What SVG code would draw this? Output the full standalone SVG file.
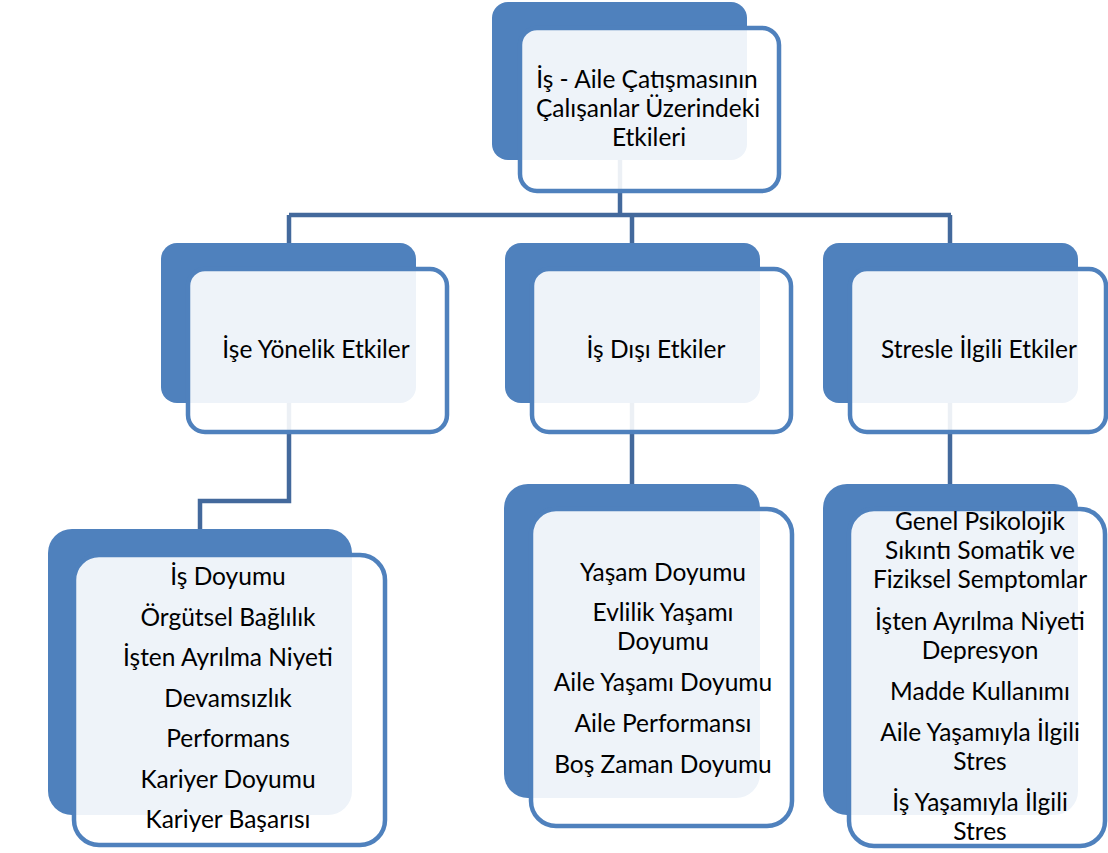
<svg xmlns="http://www.w3.org/2000/svg" width="1108" height="853" viewBox="0 0 1108 853">
<style>
.back{fill:#4f81bd;}
.front{fill:#ffffff;fill-opacity:0.9;stroke:#4f81bd;stroke-width:4.5;}
.conn{fill:none;stroke:#43699c;stroke-width:4.5;}
text{font-family:Lato,"Liberation Sans",sans-serif;font-size:24.5px;fill:#000;text-anchor:middle;}
</style>
<rect width="1108" height="853" fill="#ffffff"/>
<g id="connectors">
<path class="conn" d="M620,150 V215"/>
<path class="conn" d="M289,215 H951"/>
<path class="conn" d="M289,215 V250"/>
<path class="conn" d="M632,215 V250"/>
<path class="conn" d="M950,215 V250"/>
<path class="conn" d="M289,400 V501 H200 V535"/>
<path class="conn" d="M632,400 V490"/>
<path class="conn" d="M950,400 V490"/>
</g>
<g id="root">
<rect class="back" x="492" y="2" width="255" height="158" rx="16"/>
<rect class="front" x="520" y="28" width="259" height="163" rx="17"/>
<text x="647" y="88">İş - Aile Çatışmasının</text>
<text x="648" y="117">Çalışanlar Üzerindeki</text>
<text x="649" y="146">Etkileri</text>
</g>
<g id="ise-yonelik">
<rect class="back" x="161" y="243" width="255" height="160" rx="16"/>
<rect class="front" x="188" y="269" width="259" height="163" rx="17"/>
<text x="316" y="358">İşe Yönelik Etkiler</text>
</g>
<g id="is-disi">
<rect class="back" x="505" y="243" width="255" height="160" rx="16"/>
<rect class="front" x="532" y="269" width="259" height="163" rx="17"/>
<text x="656" y="358">İş Dışı Etkiler</text>
</g>
<g id="stresle">
<rect class="back" x="823" y="243" width="255" height="160" rx="16"/>
<rect class="front" x="850" y="269" width="256" height="163" rx="17"/>
<text x="979" y="358">Stresle İlgili Etkiler</text>
</g>
<g id="ise-yonelik-list">
<rect class="back" x="48" y="529" width="304" height="286" rx="24"/>
<rect class="front" x="74" y="555" width="311" height="290" rx="25"/>
<text x="228" y="585">İş Doyumu</text>
<text x="228" y="626">Örgütsel Bağlılık</text>
<text x="228" y="666">İşten Ayrılma Niyeti</text>
<text x="228" y="707">Devamsızlık</text>
<text x="228" y="747">Performans</text>
<text x="228" y="788">Kariyer Doyumu</text>
<text x="228" y="828">Kariyer Başarısı</text>
</g>
<g id="is-disi-list">
<rect class="back" x="504" y="484" width="256" height="314" rx="24"/>
<rect class="front" x="531" y="509" width="261" height="317" rx="25"/>
<text x="663" y="581">Yaşam Doyumu</text>
<text x="663" y="621">Evlilik Yaşamı</text>
<text x="663" y="650">Doyumu</text>
<text x="663" y="691">Aile Yaşamı Doyumu</text>
<text x="663" y="732">Aile Performansı</text>
<text x="663" y="773">Boş Zaman Doyumu</text>
</g>
<g id="stresle-list">
<rect class="back" x="823" y="484" width="255" height="331" rx="24"/>
<rect class="front" x="849" y="509" width="256" height="337" rx="25"/>
<text x="980" y="530">Genel Psikolojik</text>
<text x="980" y="559">Sıkıntı Somatik ve</text>
<text x="980" y="588">Fiziksel Semptomlar</text>
<text x="980" y="630">İşten Ayrılma Niyeti</text>
<text x="980" y="659">Depresyon</text>
<text x="980" y="700">Madde Kullanımı</text>
<text x="980" y="741">Aile Yaşamıyla İlgili</text>
<text x="980" y="770">Stres</text>
<text x="980" y="811">İş Yaşamıyla İlgili</text>
<text x="980" y="840">Stres</text>
</g>
</svg>
